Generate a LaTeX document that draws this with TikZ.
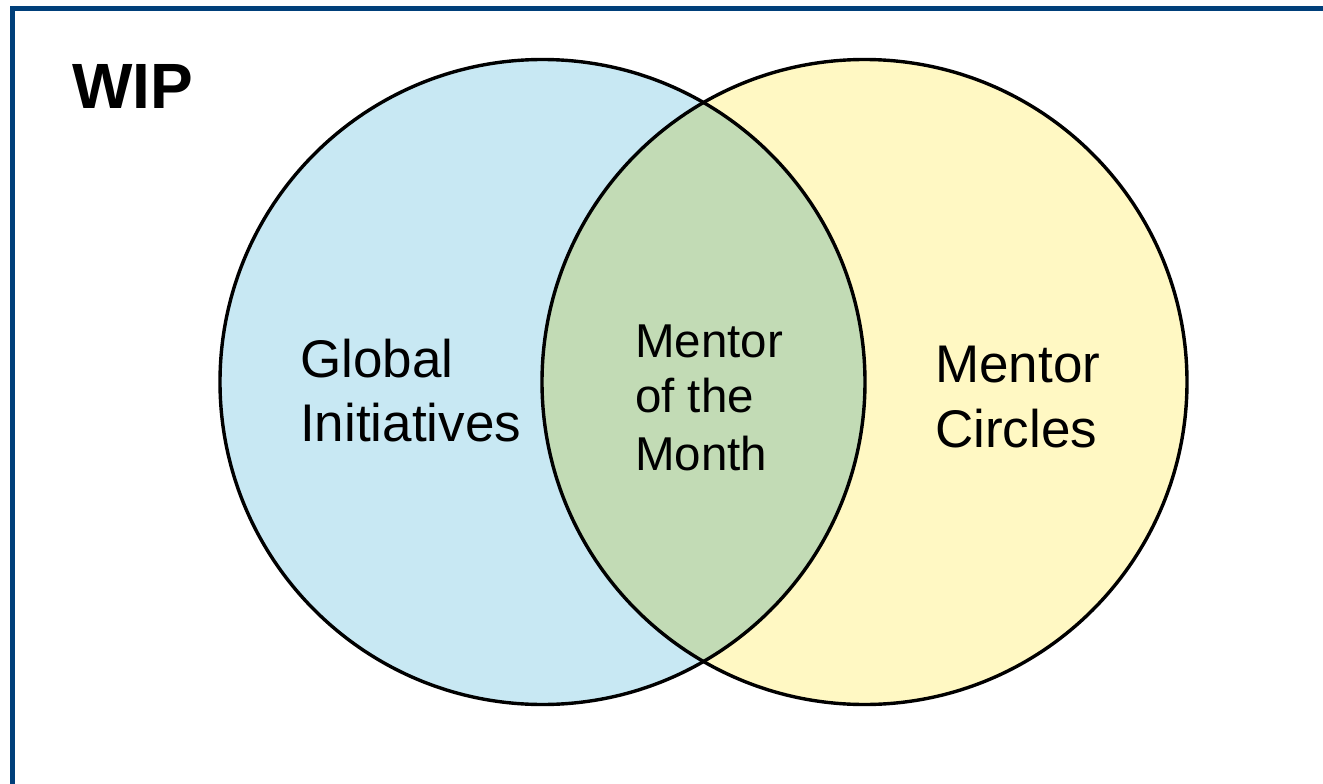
\documentclass[tikz,border=0pt]{standalone}
\usepackage{fontspec}
\setmainfont{Liberation Sans}
\definecolor{frameblue}{HTML}{003F7A}
\definecolor{setblue}{HTML}{C8E8F3}
\definecolor{setyellow}{HTML}{FFF8C3}
\definecolor{setgreen}{HTML}{C2DBB5}
\begin{document}
\begin{tikzpicture}[x=1pt,y=-1pt,
  lbl/.style={anchor=base west,inner sep=0pt,font=\fontsize{53}{62}\selectfont},
  lblsmall/.style={anchor=base west,inner sep=0pt,font=\fontsize{47.5}{56}\selectfont},
  ring/.style={draw=black,line width=3.4pt}]
\useasboundingbox (0,0) rectangle (1323,784);
\fill[white] (0,0) rectangle (1323,784);
\draw[frameblue,line width=5pt] (12.5,800) -- (12.5,8.5) -- (1340,8.5);
\coordinate (A) at (542.5,382);
\coordinate (B) at (864.5,382);
\fill[setblue] (A) circle[radius=322.5];
\fill[setyellow] (B) circle[radius=322.5];
\begin{scope}
  \clip (A) circle[radius=322.5];
  \fill[setgreen] (B) circle[radius=322.5];
\end{scope}
\draw[ring] (A) circle[radius=322.5];
\draw[ring] (B) circle[radius=322.5];
\node[anchor=base west,inner sep=0pt,font=\fontsize{64}{70}\selectfont\bfseries] (wip) at (72,108) {WIP};
\node[lbl] (g1) at (300,377) {Global};
\node[lbl] (g2) at (300,441) {Initiatives};
\node[lblsmall] (m1) at (635,357) {Mentor};
\node[lblsmall] (m2) at (635,412) {of the};
\node[lblsmall] (m3) at (635,470) {Month};
\node[lbl] (c1) at (935,382) {Mentor};
\node[lbl] (c2) at (935,447) {Circles};
\end{tikzpicture}
\end{document}
